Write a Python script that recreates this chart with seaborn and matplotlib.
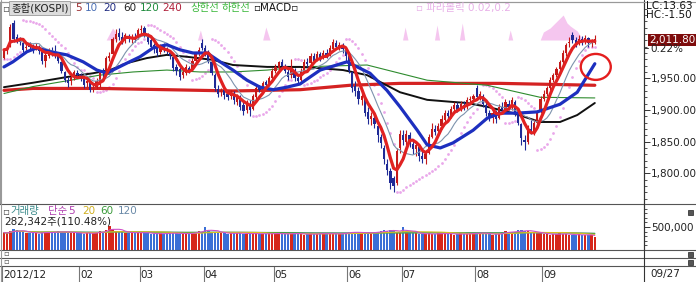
import numpy as np
import pandas as pd
import matplotlib
matplotlib.use("Agg")
import matplotlib.pyplot as plt
from matplotlib.lines import Line2D
from matplotlib.patches import Ellipse, Rectangle
import seaborn as sns

W, H = 696, 282
sns.set_theme(style="white")
plt.rcParams['font.family'] = ['DejaVu Sans', 'Noto Sans CJK KR']

# ---------------- data ----------------
opens = [1982, 1993, 2000, 2038, 2015, 2012, 2006, 1998, 2002, 2000, 1998, 2000, 1992, 1978, 1985, 1995, 1992, 1985, 1975, 1960, 1948, 1945, 1952, 1958,
         1955, 1950, 1942, 1943, 1934, 1936, 1940, 1962, 1960, 1982, 1988, 2012, 2022, 2016, 2010, 2016, 2012, 2014, 2015,
         2026, 2030, 2020, 2010, 2002, 1998, 1992, 2002, 1996, 1990, 1984, 1968, 1965, 1955, 1958, 1966, 1964, 1978, 1990, 2005,
         1998, 1990, 1975, 1955, 1933, 1928, 1932, 1925, 1922, 1926, 1912, 1920, 1908, 1900, 1910, 1902, 1920, 1935, 1932, 1944, 1940, 1950,
         1962, 1966, 1975, 1968, 1960, 1955, 1962, 1950, 1948, 1962, 1975, 1974, 1985, 1980, 1988, 1985, 1990, 1988, 1996, 2005, 1998, 2002, 1995,
         1985, 1960, 1938, 1930, 1915, 1918, 1896, 1885, 1888, 1875, 1858, 1840, 1815, 1803, 1792, 1785, 1840,
         1860, 1850, 1860, 1846, 1838, 1842, 1828, 1822, 1832, 1858, 1870, 1866, 1875, 1884, 1895, 1890, 1902, 1908, 1900, 1908, 1905, 1915, 1918,
         1935, 1922, 1922, 1908, 1895, 1888, 1895, 1888, 1905, 1900, 1910, 1905, 1912, 1895, 1878, 1852, 1850, 1870, 1864, 1880, 1898,
         1918, 1926, 1935, 1948, 1955, 1965, 1975, 1990, 2005, 2018, 2010, 2006, 2012, 2008, 2013, 2005, 2006]
closes = [1995, 1997, 2031, 2012, 2011, 2008, 1995, 2000, 2000, 1996, 2001, 1993, 1977, 1987, 1995, 1990, 1985, 1978, 1962, 1947, 1942, 1952, 1960, 1955,
          1950, 1940, 1945, 1932, 1935, 1945, 1960, 1958, 1982, 1985, 2012, 2020, 2015, 2008, 2018, 2012, 2015, 2012, 2026,
          2028, 2018, 2008, 2000, 1996, 1990, 2000, 1996, 1993, 1985, 1966, 1962, 1952, 1960, 1968, 1962, 1978, 1988, 1995, 1998,
          1990, 1978, 1958, 1935, 1925, 1932, 1924, 1920, 1928, 1915, 1922, 1905, 1898, 1912, 1900, 1922, 1935, 1932, 1942, 1940, 1950, 1962,
          1968, 1975, 1970, 1962, 1952, 1965, 1950, 1945, 1962, 1975, 1972, 1985, 1978, 1988, 1982, 1990, 1985, 1998, 2008, 2000, 2003, 1996, 1985,
          1962, 1935, 1930, 1918, 1922, 1895, 1885, 1890, 1878, 1860, 1848, 1822, 1805, 1785, 1780, 1835, 1862,
          1852, 1862, 1848, 1838, 1845, 1828, 1822, 1830, 1858, 1870, 1865, 1875, 1885, 1895, 1890, 1902, 1908, 1900, 1910, 1905, 1915, 1918, 1922,
          1920, 1925, 1910, 1895, 1888, 1895, 1885, 1905, 1900, 1912, 1905, 1915, 1895, 1880, 1855, 1850, 1870, 1865, 1880, 1895, 1918,
          1926, 1935, 1948, 1955, 1965, 1975, 1990, 2003, 2008, 2010, 2005, 2012, 2007, 2013, 2005, 2007, 2011.8]
highs = [1997, 2000, 2035, 2042, 2020, 2016, 2010, 2005, 2008, 2004, 2006, 2003, 1995, 1990, 1998, 1999, 2002, 1990, 1978, 1962, 1952, 1958, 1963, 1963,
         1958, 1953, 1950, 1946, 1940, 1950, 1962, 1966, 1986, 1992, 2015, 2028, 2029, 2023, 2022, 2020, 2020, 2022, 2030,
         2034, 2033, 2022, 2015, 2006, 2002, 2004, 2006, 2000, 1994, 1986, 1972, 1968, 1964, 1972, 1970, 1982, 1992, 2000, 2012,
         2003, 1994, 1978, 1958, 1940, 1935, 1935, 1930, 1932, 1930, 1926, 1924, 1912, 1916, 1915, 1925, 1940, 1940, 1945, 1948, 1953, 1966,
         1972, 1978, 1980, 1972, 1965, 1980, 1966, 1956, 1966, 1980, 1982, 1990, 1990, 1993, 1992, 1995, 1996, 2002, 2012, 2010, 2008, 2006, 1998,
         1988, 1962, 1945, 1937, 1928, 1920, 1905, 1897, 1892, 1879, 1862, 1845, 1822, 1808, 1795, 1840, 1868,
         1868, 1868, 1865, 1852, 1850, 1846, 1835, 1836, 1862, 1880, 1876, 1880, 1892, 1900, 1900, 1907, 1912, 1913, 1914, 1914, 1920, 1922, 1926,
         1940, 1930, 1925, 1912, 1900, 1900, 1900, 1910, 1912, 1918, 1916, 1920, 1915, 1900, 1880, 1860, 1876, 1884, 1886, 1900, 1922,
         1932, 1938, 1952, 1958, 1968, 1979, 1994, 2006, 2015, 2023, 2016, 2018, 2017, 2018, 2016, 2012, 2018]
lows = [1980, 1988, 1999, 2008, 2005, 2003, 1992, 1994, 1997, 1990, 1994, 1988, 1972, 1968, 1982, 1985, 1982, 1974, 1958, 1944, 1936, 1940, 1948, 1950,
        1945, 1935, 1936, 1928, 1928, 1933, 1936, 1952, 1958, 1978, 1986, 2008, 2010, 2004, 2006, 2008, 2006, 2008, 2012,
        2020, 2015, 2004, 1996, 1990, 1986, 1988, 1992, 1988, 1980, 1962, 1956, 1948, 1950, 1955, 1958, 1962, 1975, 1986, 1994,
        1986, 1974, 1955, 1930, 1920, 1922, 1918, 1916, 1918, 1910, 1908, 1900, 1892, 1895, 1890, 1900, 1918, 1928, 1930, 1935, 1938, 1947,
        1958, 1962, 1965, 1958, 1948, 1950, 1946, 1940, 1945, 1960, 1968, 1972, 1975, 1977, 1978, 1980, 1982, 1986, 1994, 1996, 1994, 1990, 1978,
        1958, 1928, 1922, 1910, 1908, 1890, 1878, 1876, 1872, 1850, 1840, 1815, 1798, 1775, 1770, 1782, 1832,
        1845, 1845, 1842, 1830, 1828, 1820, 1816, 1815, 1830, 1855, 1860, 1862, 1870, 1880, 1885, 1888, 1898, 1896, 1898, 1900, 1902, 1910, 1914,
        1915, 1915, 1905, 1890, 1882, 1880, 1879, 1885, 1896, 1897, 1900, 1900, 1890, 1876, 1845, 1837, 1846, 1862, 1860, 1876, 1895,
        1914, 1922, 1932, 1944, 1952, 1962, 1972, 1986, 2000, 2006, 2000, 2002, 2003, 2004, 2000, 2000, 2004]
volumes_k = [380, 360, 420, 450, 430, 400, 390, 380, 360, 370, 380, 350, 390, 400, 380, 370, 390, 410, 400, 390, 380, 360, 390, 370,
             360, 350, 380, 370, 360, 390, 410, 400, 440, 530, 460, 420, 400, 390, 380, 370, 360, 380, 390,
             380, 370, 360, 350, 340, 360, 370, 350, 360, 370, 380, 360, 350, 340, 360, 370, 380, 390, 420, 400,
             500, 420, 400, 390, 380, 370, 360, 350, 360, 370, 380, 360, 350, 340, 360, 370, 360, 350, 340, 350, 360, 370,
             360, 350, 340, 350, 360, 370, 360, 350, 340, 330, 350, 360, 340, 350, 360, 370, 360, 350, 340, 350, 360, 370, 380,
             390, 400, 380, 370, 360, 380, 390, 370, 380, 400, 420, 430, 410, 440, 420, 400, 390,
             500, 420, 380, 370, 360, 350, 340, 350, 360, 340, 350, 360, 370, 360, 350, 340, 330, 350, 360, 340, 350, 360, 370,
             380, 370, 360, 350, 340, 330, 350, 360, 400, 410, 390, 380, 400, 430, 440, 420, 410, 390, 380, 370, 360,
             350, 340, 330, 340, 350, 360, 350, 340, 330, 320, 330, 340, 330, 320, 330, 320, 282]

# longer moving averages (day index, value)
ma20_x = [0, 2.8, 7.2, 10.3, 14.4, 19.7, 24.8, 29.1, 32.3, 34.1, 38.5, 42.6, 46.7, 51, 55.1, 59.2, 63.6, 67.7, 71.7, 76.1,
          80.2, 84.3, 88.6, 92.7, 99, 107.4, 114.6, 119.9, 124, 129.4, 132.5, 136.6, 140.6, 146.9, 151.3, 155.4, 160.7,
          167, 174.1, 179.5, 185]
ma20_y = [1968, 1976, 1992, 1998, 1992, 1987, 1976, 1963, 1958, 1963, 1974, 1984, 1998, 2003, 1995, 1990, 1990, 1976, 1963, 1947,
          1936, 1932, 1936, 1941, 1963, 1976, 1958, 1931, 1905, 1868, 1845, 1840, 1848, 1868, 1887, 1895, 1895,
          1897, 1909, 1928, 1973]
ma60_x = [0, 9.1, 19.7, 27.9, 33.2, 38.5, 44.8, 51, 57.3, 65.5, 71.7, 82.4, 92.7, 99, 106.2, 113.7, 124, 132.5, 139.7,
          145, 151.3, 159.4, 167.9, 174.1, 179.5, 185]
ma60_y = [1936, 1943, 1952, 1958, 1963, 1974, 1982, 1987, 1984, 1979, 1971, 1968, 1968, 1966, 1963, 1955, 1928, 1916, 1913,
          1911, 1905, 1895, 1881, 1881, 1892, 1911]
ma120_x = [0, 9.1, 19.7, 30, 40.4, 51, 61.4, 71.7, 82.4, 92.7, 113.7, 132.5, 151.3, 167.9, 185]
ma120_y = [1926, 1937, 1946, 1955, 1960, 1963, 1960, 1960, 1963, 1968, 1971, 1947, 1939, 1920, 1919]
ma240_x = [0, 9.1, 30, 51, 71.7, 92.7, 108.4, 124, 139.7, 155.4, 185]
ma240_y = [1931, 1934, 1934, 1932, 1930, 1932, 1939, 1942, 1942, 1942, 1939]

# MACD oscillator (positive part) drawn as pink area at top, height in px
osc_x = [32, 33, 34, 35, 35.6, 60.6, 61.5, 62.3, 81, 82, 83.3, 124.8, 125.6, 126.5, 134.8, 135.6, 136.4,
         142.6, 143.5, 144.3, 157.8, 158.5, 159.3, 167.9, 168.9, 171, 173.2, 175.1, 176.3, 177.3, 179.5, 181.3]
osc_v = [0, 6, 12, 8, 0, 0, 10, 0, 0, 13, 0, 0, 13, 0, 0, 15, 0,
         0, 17, 0, 0, 10, 0, 0, 8, 12, 19, 25, 17, 14, 9, 0]

month_labels = ['2012/12', '02', '03', '04', '05', '06', '07', '08', '09']
month_start = [0, 24, 43, 63, 85, 108, 125, 148, 169]
price_ticks = [1800, 1850, 1900, 1950]

# ---------------- figure ----------------
fig = plt.figure(figsize=(W / 100, H / 100), dpi=100)
fig.patch.set_facecolor('white')


def rect(x0, y0, x1, y1):
    return [x0 / W, 1 - y1 / H, (x1 - x0) / W, (y1 - y0) / H]


def px(x, y):
    return x / W, 1 - y / H


XL = (-1.24, 200.4)
N = len(closes)
idx = np.arange(N)
C = np.array(closes, float); O = np.array(opens, float)
Hh = np.array(highs, float); Ll = np.array(lows, float)
up = C >= O
UP_C, DN_C = '#c41a1a', '#1f2a96'

ax = fig.add_axes(rect(0, 2, 644, 204))
ax.set_xlim(*XL)
ax.set_ylim(1751.5, 2070.5)

# MACD oscillator area (behind everything)
axo = ax.twinx()
axo.set_xlim(*XL)
axo.set_ylim(-164, 38)
axo.fill_between(osc_x, 0, osc_v, color='#f5c6ef', lw=0)
axo.axis('off')
ax.set_zorder(axo.get_zorder() + 1); ax.patch.set_visible(False)


# parabolic SAR (0.02, 0.2) from highs / lows
def psar(hi, lo, af0=0.02, afmax=0.2):
    n = len(hi); out = np.zeros(n)
    bull = True; af = af0; ep = hi[0]; out[0] = lo[0]
    for i in range(1, n):
        p = out[i - 1]
        sv = p + af * (ep - p)
        if bull:
            sv = min(sv, lo[i - 1], lo[max(i - 2, 0)])
            if lo[i] < sv:
                bull = False; sv = ep; ep = lo[i]; af = af0
            elif hi[i] > ep:
                ep = hi[i]; af = min(af + af0, afmax)
        else:
            sv = max(sv, hi[i - 1], hi[max(i - 2, 0)])
            if hi[i] > sv:
                bull = True; sv = ep; ep = hi[i]; af = af0
            elif lo[i] < ep:
                ep = lo[i]; af = min(af + af0, afmax)
        out[i] = sv
    return out


sar = psar(Hh, Ll)
sns.scatterplot(x=idx, y=sar, ax=ax, color='#e9a8ea', s=4, linewidth=0, zorder=2)

# long moving averages
sns.lineplot(x=ma240_x, y=ma240_y, ax=ax, color='#d42222', lw=2.3, zorder=3)
sns.lineplot(x=ma120_x, y=ma120_y, ax=ax, color='#2e8b2e', lw=0.8, zorder=3)
sns.lineplot(x=ma60_x, y=ma60_y, ax=ax, color='#111111', lw=1.4, zorder=3)

# candles
ax.vlines(idx, Ll, Hh, colors=np.where(up, UP_C, DN_C), lw=0.8, zorder=4)
body_h = np.maximum(np.abs(C - O), 1.2)
ax.bar(idx, body_h, bottom=np.minimum(C, O), width=0.7,
       color=np.where(up, UP_C, DN_C), lw=0, zorder=4)

# short moving averages
s = pd.Series(C)
ma5 = s.rolling(5, min_periods=1).mean()
ma10 = s.rolling(10, min_periods=1).mean()
sns.lineplot(x=idx, y=ma10, ax=ax, color='#7d93ad', lw=0.8, zorder=5)
sns.lineplot(x=ma20_x, y=ma20_y, ax=ax, color='#1d2fbf', lw=2.3, zorder=5)
sns.lineplot(x=idx, y=ma5, ax=ax, color='#e02222', lw=2.3, zorder=6)

# red circle
ax.add_patch(Ellipse((185.3, 1968), 9.4, 41, fill=False, ec='#e41e1e', lw=1.7, zorder=7))

# right axis
ax.yaxis.tick_right()
ax.set_yticks(price_ticks)
ax.set_yticklabels([f'{t:,.2f}' for t in price_ticks], fontsize=7.5, color='#222222')
ax.set_yticks(np.arange(1760, 2070, 10), minor=True)
ax.tick_params(axis='y', which='major', length=4, width=0.7, color='#333333', pad=1, right=True)
ax.tick_params(axis='y', which='minor', length=2, width=0.6, color='#333333', right=True)
ax.set_xticks([])
ax.set_xlabel(''); ax.set_ylabel('')
for sp in ['left', 'top']:
    ax.spines[sp].set_color('#999999'); ax.spines[sp].set_linewidth(0.8)
ax.spines['right'].set_color('#333333'); ax.spines['right'].set_linewidth(0.8)
ax.spines['bottom'].set_visible(False)

# ---------------- volume ----------------
axv = fig.add_axes(rect(0, 204, 644, 250))
vol = [v * 1000 for v in volumes_k]
dfv = pd.DataFrame({'i': idx, 'v': vol, 'd': np.where(up, 'up', 'dn')})
sns.barplot(data=dfv, x='i', y='v', hue='d', palette={'up': '#d6261a', 'dn': '#3a6fd6'},
            native_scale=True, width=0.75, dodge=False, legend=False, ax=axv,
            saturation=1, linewidth=0)
vs = pd.Series(vol, dtype=float)
sns.lineplot(x=idx, y=vs.rolling(120, min_periods=1).mean(), ax=axv, color='#8aa0b0', lw=0.8)
sns.lineplot(x=idx, y=vs.rolling(60, min_periods=1).mean(), ax=axv, color='#40a040', lw=0.8)
sns.lineplot(x=idx, y=vs.rolling(20, min_periods=1).mean(), ax=axv, color='#d8c020', lw=0.8)
sns.lineplot(x=idx, y=vs.rolling(5, min_periods=1).mean(), ax=axv, color='#d050c8', lw=0.8)
axv.set_xlim(*XL); axv.set_ylim(0, 1_000_000)
axv.yaxis.tick_right()
axv.set_yticks([500000]); axv.set_yticklabels(['500,000'], fontsize=7.5, color='#222222')
axv.set_yticks(np.arange(100000, 1000000, 100000), minor=True)
axv.tick_params(axis='y', which='major', length=4, width=0.7, color='#333333', pad=1, right=True)
axv.tick_params(axis='y', which='minor', length=2, width=0.6, color='#333333', right=True)
axv.set_xticks([]); axv.set_xlabel(''); axv.set_ylabel('')
for sp in ['left', 'top', 'bottom']:
    axv.spines[sp].set_visible(False)
axv.spines['right'].set_color('#333333'); axv.spines['right'].set_linewidth(0.8)

# date axis
axd = fig.add_axes(rect(0, 266, 644, 282))
axd.set_xlim(*XL); axd.set_ylim(0, 1)
axd.set_xticks([]); axd.set_yticks([])
for sp in axd.spines.values():
    sp.set_visible(False)
for lab, m in zip(month_labels, month_start):
    axd.axvline(m - 0.5, color='#777777', lw=0.8)
    axd.text(m - 0.2, 0.45, lab, fontsize=7.5, color='#222222', va='center', ha='left')

# separators
for yy in [204, 250, 258, 266]:
    fig.add_artist(Line2D([0, 1], [1 - yy / H] * 2, color='#555555', lw=0.8))
fig.add_artist(Line2D([644 / W] * 2, [0, 1], color='#333333', lw=0.8))
fig.add_artist(Line2D([0, 1], [1 - 1.5 / H] * 2, color='#999999', lw=0.8))
fig.add_artist(Line2D([0.5 / W] * 2, [0, 1], color='#999999', lw=0.8))

# header texts
TF = dict(fontsize=7.5, va='center', ha='left')
fig.text(*px(2, 8), '▫', color='#555555', **TF)
fig.text(*px(11, 8), '종합(KOSPI)', color='#222222',
         bbox=dict(boxstyle='square,pad=0.15', fc='#dcdcdc', ec='#9a9a9a', lw=0.6), **TF)
for x, t, c in [(75, '5', '#9b2d30'), (85, '10', '#4a6fb5'), (103, '20', '#1f2a80'),
                (123, '60', '#222222'), (140, '120', '#1e8b3c'), (162, '240', '#b0203a'),
                (190, '상한선', '#3cb83c'), (222, '하한선', '#3cb83c'), (253, '▫MACD▫', '#111111')]:
    fig.text(*px(x, 8), t, color=c, **TF)
fig.text(*px(416, 8), '▫ 파라볼릭 0.02,0.2', color='#e8b0e8', **TF)
fig.text(*px(646, 6), 'LC:13.63', color='#111111', **TF)
fig.text(*px(646, 15.5), 'HC:-1.50', color='#111111', **TF)
fig.text(*px(649, 40), '2,011.80', color='white',
         bbox=dict(boxstyle='square,pad=0.12', fc='#7e0c0c', ec='none'), **TF)
fig.text(*px(650, 49), '0.22%', color='#222222', **TF)
fig.add_artist(Line2D([644 / W, 648 / W], [1 - 48 / H] * 2, color='#333333', lw=0.7))
fig.text(*px(650, 274), '09/27', color='#222222', **TF)

fig.text(*px(2, 211), '▫', color='#555555', **TF)
for x, t, c in [(10, '거래량', '#3a8a8a'), (48, '단순', '#b040b0'), (68, '5', '#b040b0'),
                (82, '20', '#d0b020'), (100, '60', '#3a9a3a'), (118, '120', '#6a8aa8')]:
    fig.text(*px(x, 211), t, color=c, **TF)
fig.text(*px(4, 222), '282,342주(110.48%)', color='#222222', **TF)
fig.text(*px(3, 254), '▫', color='#555555', fontsize=6, va='center', ha='left')
fig.text(*px(3, 262), '▫', color='#555555', fontsize=6, va='center', ha='left')
for yy in [209, 251, 259]:
    fig.add_artist(Rectangle(px(688, yy + 5.5), 5 / W, 5 / H, fc='#555555', ec='#222222', lw=0.5))

fig.savefig('out.png', dpi=100, facecolor='white')
